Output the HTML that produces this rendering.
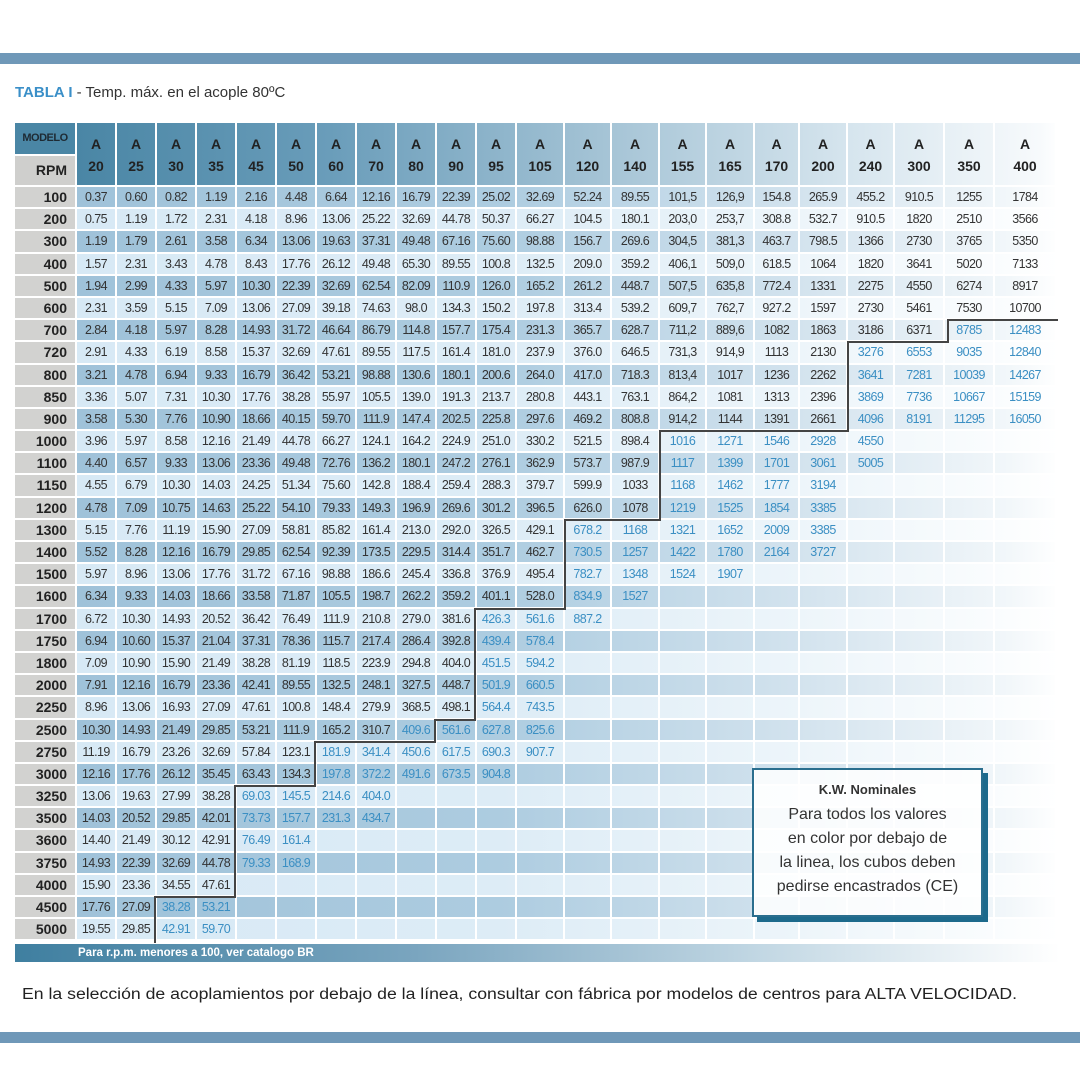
<!DOCTYPE html>
<html><head><meta charset="utf-8">
<style>
*{margin:0;padding:0;box-sizing:border-box}
body{width:1080px;height:1080px;background:#fff;position:relative;overflow:hidden;font-family:"Liberation Sans",sans-serif;color:#333}
.bar{position:absolute;left:0;width:1080px;height:11px;background:#6f98b8}
.title{position:absolute;left:15px;top:84px;font-size:15px;color:#333}
.title b{color:#3a8fc8}
.grid{display:grid;grid-template-columns:60px repeat(11,38px) 46px 45px 46px 45px 46px 43px 46px 45px 48px 48px 60px;column-gap:2px}
#hdr{position:absolute;left:15px;top:123px;height:62px}
#hdr .h{grid-row:1/3;height:62px;background:linear-gradient(90deg,#4a86a5 77px,#6a9dba 330px,#a4c3d5 600px,#d6e5ee 850px,#f7fafc 1040px,#fff 1060px) fixed;text-align:center;font-weight:bold;font-size:14px;line-height:22px;padding-top:10px;color:#222}
#hdr .m{height:31px;background:#4a86a5;font-weight:bold;font-size:11px;line-height:31px;text-align:center;color:#1e2a33;letter-spacing:-0.5px}
#hdr .p{height:29px;margin-top:2px;background:#cfcfcd;font-weight:bold;font-size:14px;line-height:29px;text-align:right;padding-right:8px;color:#222}
#rows{position:absolute;left:15px;top:187px;display:flex;flex-direction:column;row-gap:2px}
.r{height:20.2px}
.r em{font-style:normal;background:#d2d2d0;font-weight:bold;font-size:14px;line-height:20px;text-align:right;padding-right:8px;color:#222}
.r i,.r u{font-style:normal;text-decoration:none;text-align:center;font-family:"Liberation Sans Narrow","Liberation Sans",sans-serif;font-size:12.5px;letter-spacing:-0.6px;line-height:20px;white-space:nowrap;color:#333}
.r u{color:#3b8fc3}
.d i,.d u{background:linear-gradient(90deg,#9fc2d9 77px,#adcce0 500px,#d3e3ee 800px,#f2f7fa 1010px,#fff 1060px) fixed}
.l i,.l u{background:linear-gradient(90deg,#d7e9f5 77px,#ddecf6 500px,#edf5fa 800px,#fbfdfe 1010px,#fff 1060px) fixed}
#foot{position:absolute;left:15px;top:944px;width:1045px;height:18px;background:linear-gradient(90deg,#3f7fa0,#7aa5bf 400px,#c3d8e4 750px,#fff 1045px);color:#fff;font-weight:bold;font-size:11.5px;line-height:18px;padding-left:63px}
#box{position:absolute;left:752px;top:768px;width:231px;height:149px;border:2px solid #2a6e8e;background:rgba(255,255,255,0.85);box-shadow:5px 5px 0 #1d6a8c;text-align:center;color:#333}
#box .t{font-weight:bold;font-size:13px;margin-top:12px;line-height:16px}
#box .x{font-size:16px;line-height:24px;margin-top:5px}
</style></head><body>
<div class="bar" style="top:53px"></div>
<div class="title"><b>TABLA I</b> - Temp. máx. en el acople 80ºC</div>

<div id="hdr" class="grid">
<div style="grid-row:1/3"><div class="m">MODELO</div><div class="p">RPM</div></div>
<div class="h">A<br>20</div><div class="h">A<br>25</div><div class="h">A<br>30</div><div class="h">A<br>35</div><div class="h">A<br>45</div><div class="h">A<br>50</div><div class="h">A<br>60</div><div class="h">A<br>70</div><div class="h">A<br>80</div><div class="h">A<br>90</div><div class="h">A<br>95</div><div class="h">A<br>105</div><div class="h">A<br>120</div><div class="h">A<br>140</div><div class="h">A<br>155</div><div class="h">A<br>165</div><div class="h">A<br>170</div><div class="h">A<br>200</div><div class="h">A<br>240</div><div class="h">A<br>300</div><div class="h">A<br>350</div><div class="h">A<br>400</div>
</div>

<div id="rows">
<div class="r grid d"><em>100</em><i>0.37</i><i>0.60</i><i>0.82</i><i>1.19</i><i>2.16</i><i>4.48</i><i>6.64</i><i>12.16</i><i>16.79</i><i>22.39</i><i>25.02</i><i>32.69</i><i>52.24</i><i>89.55</i><i>101,5</i><i>126,9</i><i>154.8</i><i>265.9</i><i>455.2</i><i>910.5</i><i>1255</i><i>1784</i></div>
<div class="r grid l"><em>200</em><i>0.75</i><i>1.19</i><i>1.72</i><i>2.31</i><i>4.18</i><i>8.96</i><i>13.06</i><i>25.22</i><i>32.69</i><i>44.78</i><i>50.37</i><i>66.27</i><i>104.5</i><i>180.1</i><i>203,0</i><i>253,7</i><i>308.8</i><i>532.7</i><i>910.5</i><i>1820</i><i>2510</i><i>3566</i></div>
<div class="r grid d"><em>300</em><i>1.19</i><i>1.79</i><i>2.61</i><i>3.58</i><i>6.34</i><i>13.06</i><i>19.63</i><i>37.31</i><i>49.48</i><i>67.16</i><i>75.60</i><i>98.88</i><i>156.7</i><i>269.6</i><i>304,5</i><i>381,3</i><i>463.7</i><i>798.5</i><i>1366</i><i>2730</i><i>3765</i><i>5350</i></div>
<div class="r grid l"><em>400</em><i>1.57</i><i>2.31</i><i>3.43</i><i>4.78</i><i>8.43</i><i>17.76</i><i>26.12</i><i>49.48</i><i>65.30</i><i>89.55</i><i>100.8</i><i>132.5</i><i>209.0</i><i>359.2</i><i>406,1</i><i>509,0</i><i>618.5</i><i>1064</i><i>1820</i><i>3641</i><i>5020</i><i>7133</i></div>
<div class="r grid d"><em>500</em><i>1.94</i><i>2.99</i><i>4.33</i><i>5.97</i><i>10.30</i><i>22.39</i><i>32.69</i><i>62.54</i><i>82.09</i><i>110.9</i><i>126.0</i><i>165.2</i><i>261.2</i><i>448.7</i><i>507,5</i><i>635,8</i><i>772.4</i><i>1331</i><i>2275</i><i>4550</i><i>6274</i><i>8917</i></div>
<div class="r grid l"><em>600</em><i>2.31</i><i>3.59</i><i>5.15</i><i>7.09</i><i>13.06</i><i>27.09</i><i>39.18</i><i>74.63</i><i>98.0</i><i>134.3</i><i>150.2</i><i>197.8</i><i>313.4</i><i>539.2</i><i>609,7</i><i>762,7</i><i>927.2</i><i>1597</i><i>2730</i><i>5461</i><i>7530</i><i>10700</i></div>
<div class="r grid d"><em>700</em><i>2.84</i><i>4.18</i><i>5.97</i><i>8.28</i><i>14.93</i><i>31.72</i><i>46.64</i><i>86.79</i><i>114.8</i><i>157.7</i><i>175.4</i><i>231.3</i><i>365.7</i><i>628.7</i><i>711,2</i><i>889,6</i><i>1082</i><i>1863</i><i>3186</i><i>6371</i><u>8785</u><u>12483</u></div>
<div class="r grid l"><em>720</em><i>2.91</i><i>4.33</i><i>6.19</i><i>8.58</i><i>15.37</i><i>32.69</i><i>47.61</i><i>89.55</i><i>117.5</i><i>161.4</i><i>181.0</i><i>237.9</i><i>376.0</i><i>646.5</i><i>731,3</i><i>914,9</i><i>1113</i><i>2130</i><u>3276</u><u>6553</u><u>9035</u><u>12840</u></div>
<div class="r grid d"><em>800</em><i>3.21</i><i>4.78</i><i>6.94</i><i>9.33</i><i>16.79</i><i>36.42</i><i>53.21</i><i>98.88</i><i>130.6</i><i>180.1</i><i>200.6</i><i>264.0</i><i>417.0</i><i>718.3</i><i>813,4</i><i>1017</i><i>1236</i><i>2262</i><u>3641</u><u>7281</u><u>10039</u><u>14267</u></div>
<div class="r grid l"><em>850</em><i>3.36</i><i>5.07</i><i>7.31</i><i>10.30</i><i>17.76</i><i>38.28</i><i>55.97</i><i>105.5</i><i>139.0</i><i>191.3</i><i>213.7</i><i>280.8</i><i>443.1</i><i>763.1</i><i>864,2</i><i>1081</i><i>1313</i><i>2396</i><u>3869</u><u>7736</u><u>10667</u><u>15159</u></div>
<div class="r grid d"><em>900</em><i>3.58</i><i>5.30</i><i>7.76</i><i>10.90</i><i>18.66</i><i>40.15</i><i>59.70</i><i>111.9</i><i>147.4</i><i>202.5</i><i>225.8</i><i>297.6</i><i>469.2</i><i>808.8</i><i>914,2</i><i>1144</i><i>1391</i><i>2661</i><u>4096</u><u>8191</u><u>11295</u><u>16050</u></div>
<div class="r grid l"><em>1000</em><i>3.96</i><i>5.97</i><i>8.58</i><i>12.16</i><i>21.49</i><i>44.78</i><i>66.27</i><i>124.1</i><i>164.2</i><i>224.9</i><i>251.0</i><i>330.2</i><i>521.5</i><i>898.4</i><u>1016</u><u>1271</u><u>1546</u><u>2928</u><u>4550</u><u></u><u></u><u></u></div>
<div class="r grid d"><em>1100</em><i>4.40</i><i>6.57</i><i>9.33</i><i>13.06</i><i>23.36</i><i>49.48</i><i>72.76</i><i>136.2</i><i>180.1</i><i>247.2</i><i>276.1</i><i>362.9</i><i>573.7</i><i>987.9</i><u>1117</u><u>1399</u><u>1701</u><u>3061</u><u>5005</u><u></u><u></u><u></u></div>
<div class="r grid l"><em>1150</em><i>4.55</i><i>6.79</i><i>10.30</i><i>14.03</i><i>24.25</i><i>51.34</i><i>75.60</i><i>142.8</i><i>188.4</i><i>259.4</i><i>288.3</i><i>379.7</i><i>599.9</i><i>1033</i><u>1168</u><u>1462</u><u>1777</u><u>3194</u><u></u><u></u><u></u><u></u></div>
<div class="r grid d"><em>1200</em><i>4.78</i><i>7.09</i><i>10.75</i><i>14.63</i><i>25.22</i><i>54.10</i><i>79.33</i><i>149.3</i><i>196.9</i><i>269.6</i><i>301.2</i><i>396.5</i><i>626.0</i><i>1078</i><u>1219</u><u>1525</u><u>1854</u><u>3385</u><u></u><u></u><u></u><u></u></div>
<div class="r grid l"><em>1300</em><i>5.15</i><i>7.76</i><i>11.19</i><i>15.90</i><i>27.09</i><i>58.81</i><i>85.82</i><i>161.4</i><i>213.0</i><i>292.0</i><i>326.5</i><i>429.1</i><u>678.2</u><u>1168</u><u>1321</u><u>1652</u><u>2009</u><u>3385</u><u></u><u></u><u></u><u></u></div>
<div class="r grid d"><em>1400</em><i>5.52</i><i>8.28</i><i>12.16</i><i>16.79</i><i>29.85</i><i>62.54</i><i>92.39</i><i>173.5</i><i>229.5</i><i>314.4</i><i>351.7</i><i>462.7</i><u>730.5</u><u>1257</u><u>1422</u><u>1780</u><u>2164</u><u>3727</u><u></u><u></u><u></u><u></u></div>
<div class="r grid l"><em>1500</em><i>5.97</i><i>8.96</i><i>13.06</i><i>17.76</i><i>31.72</i><i>67.16</i><i>98.88</i><i>186.6</i><i>245.4</i><i>336.8</i><i>376.9</i><i>495.4</i><u>782.7</u><u>1348</u><u>1524</u><u>1907</u><u></u><u></u><u></u><u></u><u></u><u></u></div>
<div class="r grid d"><em>1600</em><i>6.34</i><i>9.33</i><i>14.03</i><i>18.66</i><i>33.58</i><i>71.87</i><i>105.5</i><i>198.7</i><i>262.2</i><i>359.2</i><i>401.1</i><i>528.0</i><u>834.9</u><u>1527</u><u></u><u></u><u></u><u></u><u></u><u></u><u></u><u></u></div>
<div class="r grid l"><em>1700</em><i>6.72</i><i>10.30</i><i>14.93</i><i>20.52</i><i>36.42</i><i>76.49</i><i>111.9</i><i>210.8</i><i>279.0</i><i>381.6</i><u>426.3</u><u>561.6</u><u>887.2</u><u></u><u></u><u></u><u></u><u></u><u></u><u></u><u></u><u></u></div>
<div class="r grid d"><em>1750</em><i>6.94</i><i>10.60</i><i>15.37</i><i>21.04</i><i>37.31</i><i>78.36</i><i>115.7</i><i>217.4</i><i>286.4</i><i>392.8</i><u>439.4</u><u>578.4</u><u></u><u></u><u></u><u></u><u></u><u></u><u></u><u></u><u></u><u></u></div>
<div class="r grid l"><em>1800</em><i>7.09</i><i>10.90</i><i>15.90</i><i>21.49</i><i>38.28</i><i>81.19</i><i>118.5</i><i>223.9</i><i>294.8</i><i>404.0</i><u>451.5</u><u>594.2</u><u></u><u></u><u></u><u></u><u></u><u></u><u></u><u></u><u></u><u></u></div>
<div class="r grid d"><em>2000</em><i>7.91</i><i>12.16</i><i>16.79</i><i>23.36</i><i>42.41</i><i>89.55</i><i>132.5</i><i>248.1</i><i>327.5</i><i>448.7</i><u>501.9</u><u>660.5</u><u></u><u></u><u></u><u></u><u></u><u></u><u></u><u></u><u></u><u></u></div>
<div class="r grid l"><em>2250</em><i>8.96</i><i>13.06</i><i>16.93</i><i>27.09</i><i>47.61</i><i>100.8</i><i>148.4</i><i>279.9</i><i>368.5</i><i>498.1</i><u>564.4</u><u>743.5</u><u></u><u></u><u></u><u></u><u></u><u></u><u></u><u></u><u></u><u></u></div>
<div class="r grid d"><em>2500</em><i>10.30</i><i>14.93</i><i>21.49</i><i>29.85</i><i>53.21</i><i>111.9</i><i>165.2</i><i>310.7</i><u>409.6</u><u>561.6</u><u>627.8</u><u>825.6</u><u></u><u></u><u></u><u></u><u></u><u></u><u></u><u></u><u></u><u></u></div>
<div class="r grid l"><em>2750</em><i>11.19</i><i>16.79</i><i>23.26</i><i>32.69</i><i>57.84</i><i>123.1</i><u>181.9</u><u>341.4</u><u>450.6</u><u>617.5</u><u>690.3</u><u>907.7</u><u></u><u></u><u></u><u></u><u></u><u></u><u></u><u></u><u></u><u></u></div>
<div class="r grid d"><em>3000</em><i>12.16</i><i>17.76</i><i>26.12</i><i>35.45</i><i>63.43</i><i>134.3</i><u>197.8</u><u>372.2</u><u>491.6</u><u>673.5</u><u>904.8</u><u></u><u></u><u></u><u></u><u></u><u></u><u></u><u></u><u></u><u></u><u></u></div>
<div class="r grid l"><em>3250</em><i>13.06</i><i>19.63</i><i>27.99</i><i>38.28</i><u>69.03</u><u>145.5</u><u>214.6</u><u>404.0</u><u></u><u></u><u></u><u></u><u></u><u></u><u></u><u></u><u></u><u></u><u></u><u></u><u></u><u></u></div>
<div class="r grid d"><em>3500</em><i>14.03</i><i>20.52</i><i>29.85</i><i>42.01</i><u>73.73</u><u>157.7</u><u>231.3</u><u>434.7</u><u></u><u></u><u></u><u></u><u></u><u></u><u></u><u></u><u></u><u></u><u></u><u></u><u></u><u></u></div>
<div class="r grid l"><em>3600</em><i>14.40</i><i>21.49</i><i>30.12</i><i>42.91</i><u>76.49</u><u>161.4</u><u></u><u></u><u></u><u></u><u></u><u></u><u></u><u></u><u></u><u></u><u></u><u></u><u></u><u></u><u></u><u></u></div>
<div class="r grid d"><em>3750</em><i>14.93</i><i>22.39</i><i>32.69</i><i>44.78</i><u>79.33</u><u>168.9</u><u></u><u></u><u></u><u></u><u></u><u></u><u></u><u></u><u></u><u></u><u></u><u></u><u></u><u></u><u></u><u></u></div>
<div class="r grid l"><em>4000</em><i>15.90</i><i>23.36</i><i>34.55</i><i>47.61</i><u></u><u></u><u></u><u></u><u></u><u></u><u></u><u></u><u></u><u></u><u></u><u></u><u></u><u></u><u></u><u></u><u></u><u></u></div>
<div class="r grid d"><em>4500</em><i>17.76</i><i>27.09</i><u>38.28</u><u>53.21</u><u></u><u></u><u></u><u></u><u></u><u></u><u></u><u></u><u></u><u></u><u></u><u></u><u></u><u></u><u></u><u></u><u></u><u></u></div>
<div class="r grid l"><em>5000</em><i>19.55</i><i>29.85</i><u>42.91</u><u>59.70</u><u></u><u></u><u></u><u></u><u></u><u></u><u></u><u></u><u></u><u></u><u></u><u></u><u></u><u></u><u></u><u></u><u></u><u></u></div>
</div>

<svg style="position:absolute;left:0;top:0" width="1080" height="1080">
<polyline fill="none" stroke="#444" stroke-width="2" points="1058,320 948,320 948,342 848,342 848,431 660,431 660,520 565,520 565,609 475,609 475,720 435,720 435,742 315,742 315,786 235,786 235,897 155,897 155,943"/>
<text x="22" y="999" font-family="Liberation Sans, sans-serif" font-size="15.5" fill="#222" textLength="995" lengthAdjust="spacingAndGlyphs">En la selección de acoplamientos por debajo de la línea, consultar con fábrica por modelos de centros para ALTA VELOCIDAD.</text>
</svg>

<div id="foot">Para r.p.m. menores a 100, ver catalogo BR</div>

<div id="box">
<div class="t">K.W. Nominales</div>
<div class="x">Para todos los valores<br>en color por debajo de<br>la linea, los cubos deben<br>pedirse encastrados (CE)</div>
</div>

<div class="bar" style="top:1032px"></div>
</body></html>
